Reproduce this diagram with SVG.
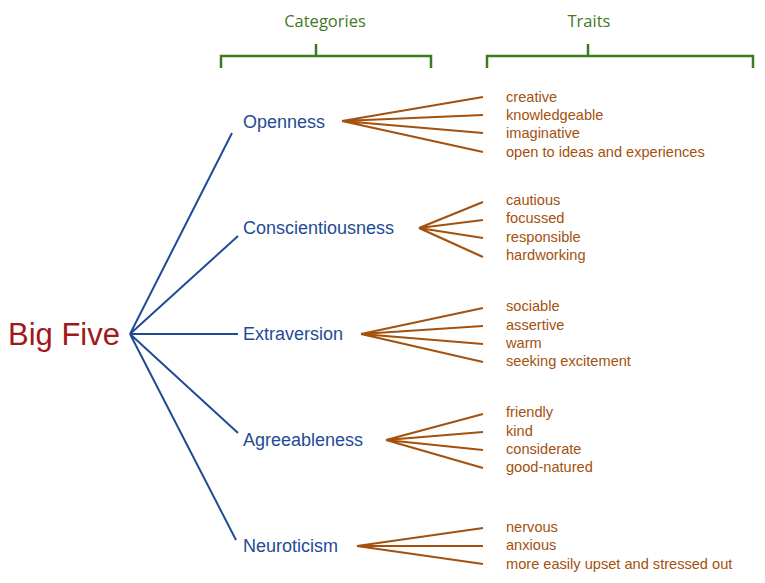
<svg xmlns="http://www.w3.org/2000/svg" width="765" height="583" viewBox="0 0 765 583">
<style>
text{font-family:"Liberation Sans",Arial,sans-serif}
.h{fill:#3f7a1e;font-family:"Open Sans","Liberation Sans",sans-serif;font-size:16.5px;text-anchor:middle}
.c{fill:#1f4b96;font-size:18px}
.t{fill:#a4510e;font-size:14.6px}
.br{fill:none;stroke:#3f7a1e;stroke-width:2.5}
.b{stroke:#1f4b96;stroke-width:2;fill:none}
.o{stroke:#a4510e;stroke-width:2.2;fill:none}
</style>
<rect width="765" height="583" fill="#fff"/>
<g id="headers">
<text class="h" x="325" y="27">Categories</text>
<text class="h" x="589" y="27">Traits</text>
<path class="br" d="M221,68 V56 H431 V68 M316,56 V44"/>
<path class="br" d="M487,68 V56 H753 V68 M588,56 V44"/>
</g>
<g id="connectors">
<path class="b" d="M130,334 L232,133 M130,334 L238,236 M130,334 L238,334 M130,334 L238,433 M130,334 L236,540"/>
<path class="o" d="M342,121 L483,97 M342,121 L483,115 M342,121 L483,133 M342,121 L483,152"/>
<path class="o" d="M419,228 L483,202 M419,228 L483,220 M419,228 L483,238 M419,228 L483,257"/>
<path class="o" d="M361,334 L483,308 M361,334 L483,326 M361,334 L483,344 M361,334 L483,362"/>
<path class="o" d="M386,440 L483,414 M386,440 L483,432 M386,440 L483,450 M386,440 L483,468"/>
<path class="o" d="M357,546 L483,528 M357,546 L483,546 M357,546 L483,564"/>
</g>
<g id="bigfive"><text x="8" y="345" font-size="31" fill="#a3171b">Big Five</text></g>
<g id="openness"><text class="c" x="243" y="128">Openness</text>
<text class="t" x="506" y="102">creative</text><text class="t" x="506" y="120">knowledgeable</text><text class="t" x="506" y="138">imaginative</text><text class="t" x="506" y="157">open to ideas and experiences</text></g>
<g id="conscientiousness"><text class="c" x="243" y="234">Conscientiousness</text>
<text class="t" x="506" y="205">cautious</text><text class="t" x="506" y="223">focussed</text><text class="t" x="506" y="242">responsible</text><text class="t" x="506" y="260">hardworking</text></g>
<g id="extraversion"><text class="c" x="243" y="340">Extraversion</text>
<text class="t" x="506" y="311">sociable</text><text class="t" x="506" y="330">assertive</text><text class="t" x="506" y="348">warm</text><text class="t" x="506" y="366">seeking excitement</text></g>
<g id="agreeableness"><text class="c" x="243" y="446">Agreeableness</text>
<text class="t" x="506" y="417">friendly</text><text class="t" x="506" y="436">kind</text><text class="t" x="506" y="454">considerate</text><text class="t" x="506" y="472">good-natured</text></g>
<g id="neuroticism"><text class="c" x="243" y="552">Neuroticism</text>
<text class="t" x="506" y="532">nervous</text><text class="t" x="506" y="550">anxious</text><text class="t" x="506" y="569">more easily upset and stressed out</text></g>
</svg>
